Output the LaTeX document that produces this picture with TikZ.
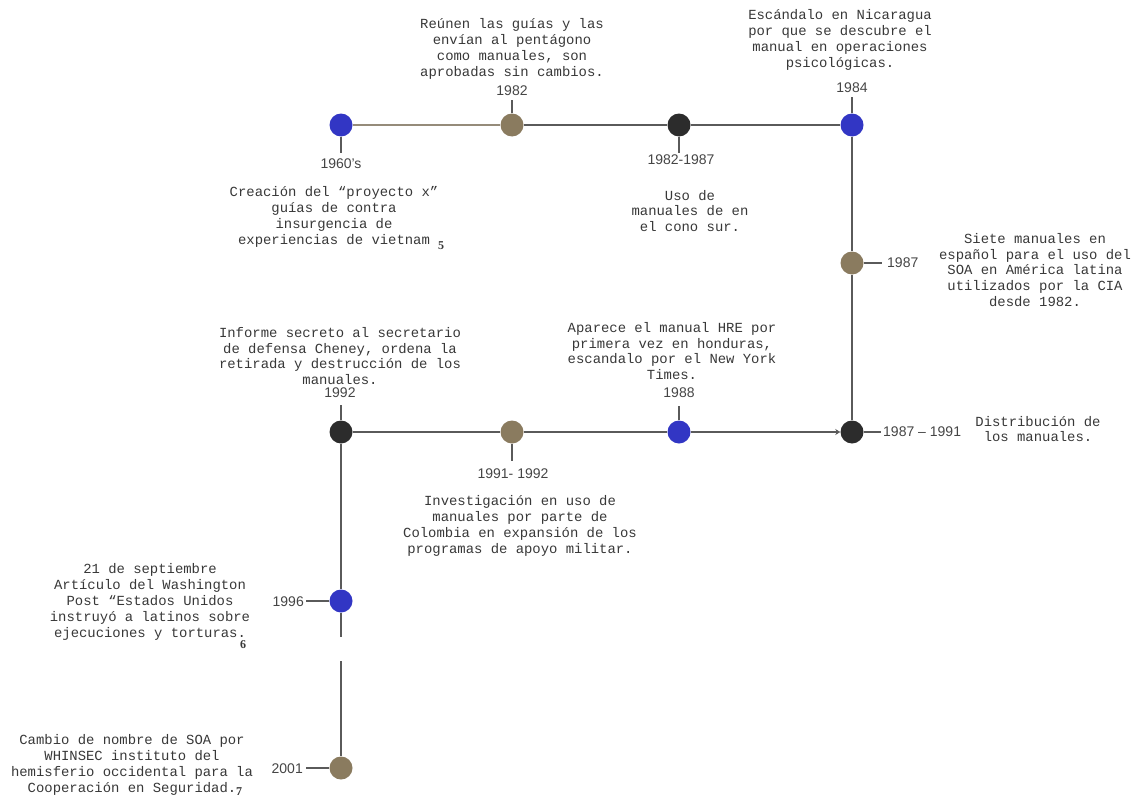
\documentclass[tikz,border=0pt]{standalone}
\usepackage{fontspec}
\setmainfont{Liberation Sans}
\newfontfamily\monof{Liberation Mono}
\newfontfamily\serf{Liberation Serif}
\usetikzlibrary{arrows.meta}
\definecolor{dblue}{HTML}{3236C4}
\definecolor{dbrown}{HTML}{8A7B5F}
\definecolor{dblack}{HTML}{2C2C2C}
\definecolor{linec}{HTML}{5A5A5A}
\definecolor{linetan}{HTML}{958B7A}
\definecolor{txtc}{HTML}{383838}
\definecolor{yrc}{HTML}{454545}
\tikzset{
  dot/.style={circle, minimum size=23pt, inner sep=0pt, draw=none},
  bluedot/.style={dot, fill=dblue},
  browndot/.style={dot, fill=dbrown},
  blackdot/.style={dot, fill=dblack},
  desc/.style={font=\monof\fontsize{13.9}{15.8}\selectfont, align=center, text=txtc, inner sep=0pt},
  yr/.style={font=\fontsize{14}{15}\selectfont, text=yrc, inner sep=0pt},
  fn/.style={font=\serf\bfseries\fontsize{12}{12}\selectfont, text=txtc, inner sep=0pt},
  tl/.style={draw=linec, line width=2.4pt},
  tick/.style={draw=linec, line width=2.2pt},
}
\begin{document}
\begin{tikzpicture}[x=1pt,y=-1pt]
\useasboundingbox (0,0) rectangle (1138,800);
% dots
\node[bluedot]  (d60) at (341,125) {};
\node[browndot] (d82) at (512,125) {};
\node[blackdot] (d8287) at (679,125) {};
\node[bluedot]  (d84) at (852,125) {};
\node[browndot] (d87) at (852,263) {};
\node[blackdot] (d8791) at (852,432) {};
\node[bluedot]  (d88) at (679,432) {};
\node[browndot] (d9192) at (512,432) {};
\node[blackdot] (d92) at (341,432) {};
\node[bluedot]  (d96) at (341,601) {};
\node[browndot] (d01) at (341,768) {};
\coordinate (gapA) at (341,637);
\coordinate (gapB) at (341,661);
% main line
\draw[draw=linetan, line width=2.4pt] (d60) -- (d82);
\draw[tl] (d82) -- (d8287);
\draw[tl] (d8287) -- (d84);
\draw[tl] (d84) -- (d87);
\draw[tl] (d87) -- (d8791);
\draw[tl] (d9192) -- (d88);
\draw[tl] (d92) -- (d9192);
\draw[tl, -{Stealth[length=5pt,width=6pt]}] (d88) -- (d8791);
\draw[tl] (d92) -- (d96);
\draw[tl] (d96) -- (gapA);
\draw[tl] (gapB) -- (d01);
% ticks
\coordinate (t60) at (341,153);
\coordinate (t82) at (512,100);
\coordinate (t8287) at (679,153);
\coordinate (t84) at (852,97);
\coordinate (t87) at (882,263);
\coordinate (t8791) at (881,432);
\coordinate (t88) at (679,406);
\coordinate (t9192) at (512,461);
\coordinate (t92) at (341,405);
\coordinate (t96) at (306,601);
\coordinate (t01) at (306,768);
\draw[tick] (d60) -- (t60);
\draw[tick] (d82) -- (t82);
\draw[tick] (d8287) -- (t8287);
\draw[tick] (d84) -- (t84);
\draw[tick] (d87) -- (t87);
\draw[tick] (d8791) -- (t8791);
\draw[tick] (d88) -- (t88);
\draw[tick] (d9192) -- (t9192);
\draw[tick] (d92) -- (t92);
\draw[tick] (d96) -- (t96);
\draw[tick] (d01) -- (t01);
% year labels
\node[yr] (y60) at (341,164) {1960's};
\node[yr] (y82) at (512,91) {1982};
\node[yr] (y8287) at (681,160) {1982-1987};
\node[yr] (y84) at (852,88) {1984};
\node[yr, anchor=west] (y87) at (887,263) {1987};
\node[yr, anchor=west] (y8791) at (883,432) {1987 -- 1991};
\node[yr] (y88) at (679,393) {1988};
\node[yr] (y9192) at (513,474) {1991- 1992};
\node[yr] (y92) at (340,393) {1992};
\node[yr, anchor=east] (y96) at (304,602) {1996};
\node[yr, anchor=east] (y01) at (303,769) {2001};
% descriptions
\node[desc] (x60) at (334,217) {Creación del “proyecto x”\\guías de contra\\insurgencia de\\experiencias de vietnam};
\node[fn] (f5) at (441,246) {5};
\node[desc] (x82) at (512,49) {Reúnen las guías y las\\envían al pentágono\\como manuales, son\\aprobadas sin cambios.};
\node[desc] (x8287) at (690,211) {Uso de\\manuales de en\\el cono sur.};
\node[desc] (x84) at (840,40) {Escándalo en Nicaragua\\por que se descubre el\\manual en operaciones\\psicológicas.};
\node[desc] (x87) at (1035,270) {Siete manuales en\\español para el uso del\\SOA en América latina\\utilizados por la CIA\\desde 1982.};
\node[desc] (x8791) at (1038,429) {Distribución de\\los manuales.};
\node[desc] (x88) at (672,351) {Aparece el manual HRE por\\primera vez en honduras,\\escandalo por el New York\\Times.};
\node[desc] (x9192) at (520,526) {Investigación en uso de\\manuales por parte de\\Colombia en expansión de los\\programas de apoyo militar.};
\node[desc] (x92) at (340,356) {Informe secreto al secretario\\de defensa Cheney, ordena la\\retirada y destrucción de los\\manuales.};
\node[desc] (x96) at (150,602) {21 de septiembre\\Artículo del Washington\\Post “Estados Unidos\\instruyó a latinos sobre\\ejecuciones y torturas.};
\node[fn] (f6) at (243,645) {6};
\node[desc] (x01) at (132,765) {Cambio de nombre de SOA por\\WHINSEC instituto del\\hemisferio occidental para la\\Cooperación en Seguridad.};
\node[fn] (f7) at (239,792) {7};
\end{tikzpicture}
\end{document}
